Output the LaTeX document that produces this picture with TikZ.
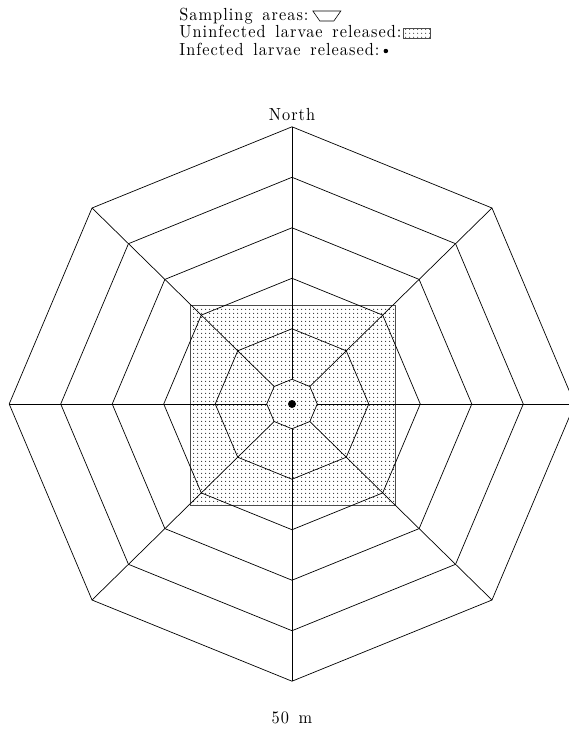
\documentclass[tikz,border=0pt]{standalone}
\usepackage{fontspec}
\setmainfont{lmroman10-regular}[Extension=.otf, LetterSpace=6, WordSpace=1.5, FakeStretch=0.93]
\usetikzlibrary{patterns.meta}
\tikzdeclarepattern{
  name=sdots, type=uncolored,
  bounding box={(0pt,0pt) and (4pt,4pt)},
  tile size={(4pt,4pt)},
  code={\pgfpathcircle{\pgfqpoint{2pt}{2pt}}{0.7pt}\pgfusepath{fill}}
}
\begin{document}
\begin{tikzpicture}[x=1pt,y=-1pt,line width=0.7pt,line join=miter,
  txt/.style={inner sep=0pt,font=\fontsize{17.5}{18}\selectfont},
  lbl/.style={txt,anchor=base west},
  dotfill/.style={pattern=sdots,pattern color=black!80},
  sqedge/.style={draw=black!70,line width=0.6pt},
  ringline/.style={draw=black},
  spoke/.style={draw=black}]
\useasboundingbox (0,0) rectangle (568,731);
\coordinate (C) at (292,404);
% release square
\path[dotfill] (190,305) rectangle (395,505);
\draw[sqedge] (190,305) rectangle (395,505);
% ring vertices
\foreach \k/\r in {1/25,2/76,3/127,4/178,5/229,6/280}{
  \foreach \i in {0,...,7}{
    \path (C) ++({\i*45}:{1.01*\r} and {0.99*\r}) coordinate (v\k-\i);
  }
}
% rings
\foreach \k in {1,...,6}{
  \draw[ringline] (v\k-0) -- (v\k-1) -- (v\k-2) -- (v\k-3) -- (v\k-4) -- (v\k-5) -- (v\k-6) -- (v\k-7) -- cycle;
}
% spokes
\foreach \i in {0,...,7}{
  \draw[spoke] (v1-\i) -- (v6-\i);
}
% infected release point
\node[circle,fill=black,inner sep=0pt,minimum size=8pt] (dot) at (C) {};
% legend
\node[lbl] (l1) at (179,20) {Sampling areas:};
\node[lbl] (l2) at (179,37.5) {Uninfected larvae released:};
\node[lbl] (l3) at (179,55) {Infected larvae released:};
\draw[line width=0.6pt] ([shift={(4,-9)}]l1.base east) coordinate (t1) -- ++(28,0) -- ++(-7,10) -- ++(-14,0) -- cycle;
\path[dotfill] ([shift={(1,-9)}]l2.base east) coordinate (b1) rectangle ++(27,10);
\draw[sqedge] (b1) rectangle ++(27,10);
\node[circle,fill=black,inner sep=0pt,minimum size=4.5pt] (bul) at ([shift={(6,-4)}]l3.base east) {};
% labels
\node[txt,anchor=base] (north) at (292,120) {North};
\node[txt,anchor=base] (scale) at (292,723) {50 m};
\end{tikzpicture}
\end{document}
